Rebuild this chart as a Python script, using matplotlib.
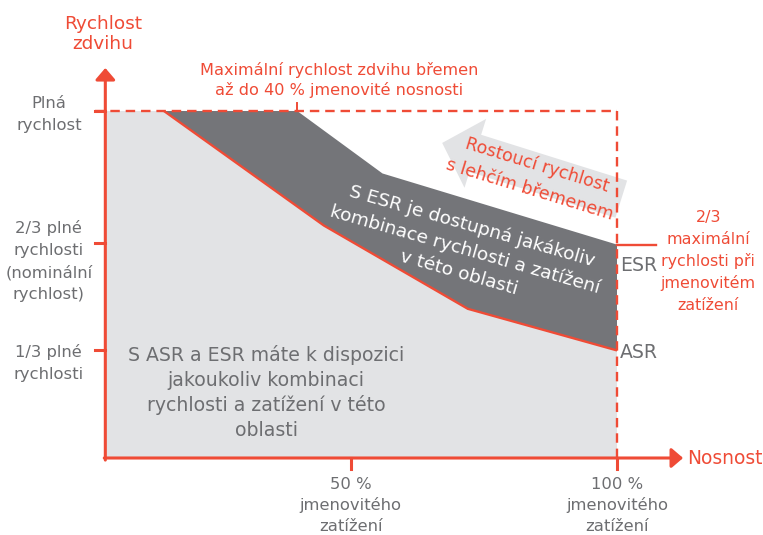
import numpy as np
import matplotlib
matplotlib.use("Agg")
import matplotlib.pyplot as plt

plt.rcParams['font.family'] = ['DejaVu Sans']

# ---- data (load in % of rated capacity, speed in drawn units: 100 = full speed) ----
asr_load = [15, 45, 72, 100]
asr_speed = [100, 67, 43, 31]
esr_load = [15, 40, 56, 100]
esr_speed = [100, 100, 82, 61.5]

ytick_pos = [100, 62, 31]
ytick_labels = [["Plná", "rychlost"],
                ["2/3 plné", "rychlosti", "(nominální", "rychlost)"],
                ["1/3 plné", "rychlosti"]]
ytick_label_y = [99.1, 56.8, 27.4]
xtick_pos = [50, 100]
xtick_labels = [["50 %", "jmenovitého", "zatížení"],
                ["100 %", "jmenovitého", "zatížení"]]
max_speed_load = 40

RED = "#EF4B36"
LGREY = "#E2E3E5"
DGREY = "#747579"
TGREY = "#6D6E71"

fig = plt.figure(figsize=(7.63, 5.35), dpi=100)
ax = fig.add_axes([0, 0, 1, 1])
ax.set_xlim(-15.76, 127.39)
ax.set_ylim(-22.19, 131.99)
ax.axis("off")


def block(x, y, lines, size, pitch_px, color, rot=0.0, zorder=6):
    """Draw lines of text centred at (x, y) with a fixed pitch in pixels."""
    n = len(lines)
    em = size * 100 / 72
    th = np.deg2rad(rot)
    for i, s in enumerate(lines):
        k = (i - (n - 1) / 2) * pitch_px + 0.32 * em
        dx = k * np.sin(th)
        dy = -k * np.cos(th)
        ax.annotate(s, xy=(x, y), xytext=(dx * 0.72, dy * 0.72), textcoords="offset points",
                    ha="center", va="baseline", rotation=rot, rotation_mode="anchor",
                    fontsize=size, color=color, zorder=zorder)


x0, y0 = 4.0, 0.0
x_end, y_top = 112.4, 112.4

# light grey area (below ASR)
ax.fill([x0] + asr_load + [100, x0], [100] + asr_speed + [0, 0], color=LGREY, lw=0, zorder=1)
# dark area between ASR and ESR
ax.fill(esr_load + asr_load[::-1], esr_speed + asr_speed[::-1], color=DGREY, lw=0, zorder=2)
# ASR line
ax.plot(asr_load, asr_speed, color=RED, lw=1.7, zorder=3, solid_capstyle="butt")
# ESR short marker
ax.plot([100, 107.3], [esr_speed[-1], esr_speed[-1]], color=RED, lw=1.7, zorder=3)

# dashed limits
ax.plot([2.0, 100], [100, 100], color=RED, lw=1.7, ls=(0, (4, 2.5)), zorder=4)
ax.plot([100, 100], [100, 0], color=RED, lw=1.7, ls=(0, (4, 2.5)), zorder=4)
ax.plot([max_speed_load, max_speed_load], [100, 102.4], color=RED, lw=1.4, zorder=4)

# axes with arrows
ax.annotate("", xy=(x0, y_top), xytext=(x0, y0 - 0.6),
            arrowprops=dict(arrowstyle="-|>,head_length=7,head_width=6", mutation_scale=1,
                            lw=2.2, color=RED, shrinkA=0, shrinkB=0), zorder=5)
ax.annotate("", xy=(x_end, y0), xytext=(x0 - 0.2, y0),
            arrowprops=dict(arrowstyle="-|>,head_length=7,head_width=6", mutation_scale=1,
                            lw=2.2, color=RED, shrinkA=0, shrinkB=0), zorder=5)

# ticks
for yp in ytick_pos:
    ax.plot([2.0, x0], [yp, yp], color=RED, lw=2.2, zorder=5)
for xp in xtick_pos:
    ax.plot([xp, xp], [y0, -3.3], color=RED, lw=2.2, zorder=5)

# tick labels
for yl, lab in zip(ytick_label_y, ytick_labels):
    block(-6.6, yl, lab, 11.8, 22, TGREY)
for xp, lab in zip(xtick_pos, xtick_labels):
    block(xp, -13.5, lab, 11.8, 21, TGREY)

# axis titles
block(3.56, 122.5, ["Rychlost", "zdvihu"], 13.3, 20.5, RED)
ax.text(113.1, 0, "Nosnost", ha="left", va="center", color=RED, fontsize=13.4)

# annotations
block(47.8, 108.9, ["Maximální rychlost zdvihu břemen", "až do 40 % jmenovité nosnosti"], 11.6, 20, RED)
block(117.1, 56.8, ["2/3", "maximální", "rychlosti při", "jmenovitém", "zatížení"], 11.4, 21.8, RED)
ax.text(100.6, 55.6, "ESR", ha="left", va="center", color=TGREY, fontsize=13.6)
ax.text(100.6, 30.5, "ASR", ha="left", va="center", color=TGREY, fontsize=13.6)

block(34.2, 18.9, ["S ASR a ESR máte k dispozici", "jakoukoliv kombinaci",
                   "rychlosti a zatížení v této", "oblasti"], 13.6, 25, TGREY)

block(71.6, 60.2, ["S ESR je dostupná jakákoliv", "kombinace rychlosti a zatížení",
                   "v této oblasti"], 13.3, 24, "white", rot=-16)

# "increasing speed" arrow
ax.annotate("", xy=(67.2, 90.8), xytext=(100.8, 74.6),
            arrowprops=dict(arrowstyle="simple,head_length=25,head_width=52,tail_width=28",
                            mutation_scale=1, fc=LGREY, ec="none", shrinkA=0, shrinkB=0), zorder=3)
block(84.4, 81.0, ["Rostoucí rychlost", "s lehčím břemenem"], 12.5, 25, RED, rot=-17)

fig.savefig("out.png", dpi=100)
